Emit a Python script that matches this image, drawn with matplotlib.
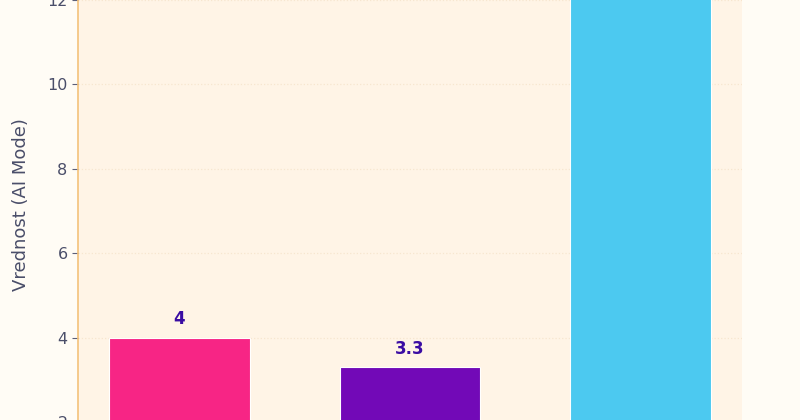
import matplotlib
matplotlib.use("Agg")
import matplotlib.pyplot as plt
import numpy as np

# podaci
categories = ["A", "B", "C"]
values = [4.0, 3.3, 14.0]
bar_colors = ["#F72585", "#7209B7", "#4CC9F0"]
yticks = [0, 2, 4, 6, 8, 10, 12, 14, 16]

fig = plt.figure(figsize=(8, 4.2), dpi=100, facecolor="#FFFCF5")
# osa je namerno veca od slike (isecen prikaz)
ax_bottom, ax_height = -0.2057, 1.6076
ax = fig.add_axes([0.0975, ax_bottom, 0.83, ax_height])
ax.set_facecolor("#FFF4E6")

x = np.arange(len(categories))
bars = ax.bar(x, values, width=0.61, color=bar_colors,
              edgecolor="white", linewidth=0.8, zorder=3)

for rect, v in zip(bars, values):
    if v < 12:
        ax.text(rect.get_x() + rect.get_width() / 2, v + 0.22, f"{v:g}",
                ha="center", va="bottom", fontsize=12, fontweight="bold",
                color="#3A0CA3", zorder=4)

ax.set_xlim(-0.44, 2.44)
ax.set_ylim(0, 16)
ax.set_yticks(yticks)
ax.set_xticks([])
ax.grid(axis="y", color="#F7E6CF", linestyle=":", linewidth=0.9, zorder=0)

for s in ["top", "right", "bottom"]:
    ax.spines[s].set_visible(False)
ax.spines["left"].set_color("#F4C27A")
ax.spines["left"].set_linewidth(1.2)

ax.tick_params(axis="y", colors="#5C5F78", labelsize=11.5, length=4,
               width=0.8)
for lbl in ax.get_yticklabels():
    lbl.set_color("#4A4E69")

ax.set_ylabel("Vrednost (AI Mode)", fontsize=13, color="#4A4E69")
# oznaka ose na sredini vidljivog dela
ax_y = (0.512 - ax_bottom) / ax_height
ax.yaxis.set_label_coords(-0.072, ax_y)

fig.savefig("out.png", dpi=100, facecolor=fig.get_facecolor())
